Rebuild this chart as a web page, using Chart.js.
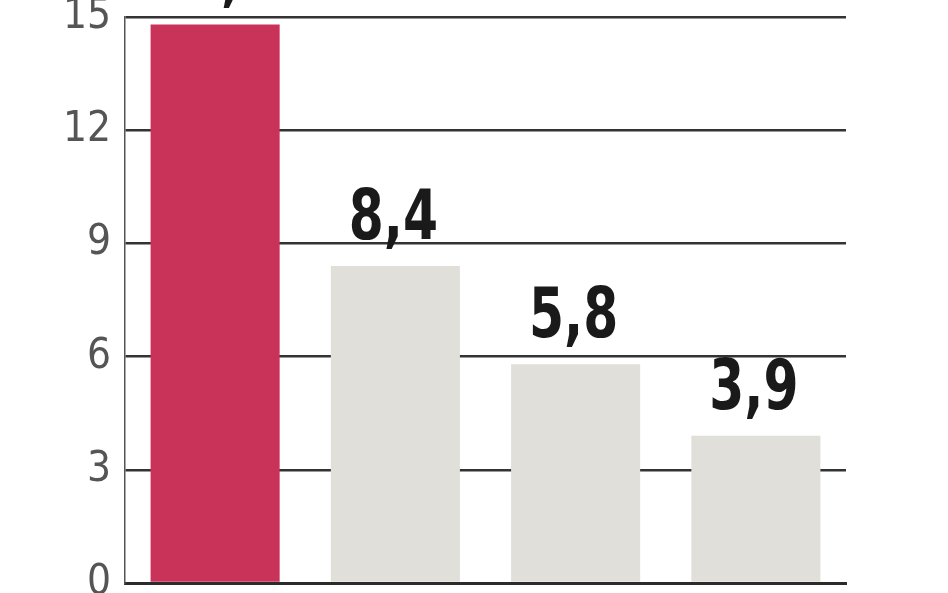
<!DOCTYPE html>
<html>
<head>
<meta charset="utf-8">
<script src="https://cdn.jsdelivr.net/npm/chart.js@4/dist/chart.umd.min.js"></script>
<style>
	html, body { margin: 0; padding: 0; background: #fff; }
	#wrap { width: 948px; height: 593px; }
</style>
</head>
<body>
<div id="wrap"><canvas id="chart" width="948" height="593"></canvas></div>
<script>
const categories = ['A', 'B', 'C', 'D']
const values = [14.8, 8.4, 5.8, 3.9]
const bar_colors = ['#c93259', '#e0dfd9', '#e0dfd9', '#e0dfd9']
const y_ticks = [0, 3, 6, 9, 12, 15]

function fmt (v) {
	return v.toFixed(1).replace('.', ',')
}

// value labels above each bar, narrow bold digits
const value_labels = {
	id: 'value_labels',
	afterDatasetsDraw (chart) {
		const ctx = chart.ctx
		const meta = chart.getDatasetMeta(0)
		const squeeze = 0.8
		ctx.save()
		ctx.font = 'bold 70px "DejaVu Sans Condensed", "DejaVu Sans"'
		ctx.fillStyle = '#1a1a1a'
		ctx.textAlign = 'center'
		ctx.textBaseline = 'alphabetic'
		meta.data.forEach(function (bar, idx) {
			ctx.save()
			ctx.translate(bar.x - 2, bar.y - 27)
			ctx.scale(squeeze, 1)
			ctx.fillText(fmt(values[idx]), 0, 0)
			ctx.restore()
		})
		ctx.restore()
	},
}

const ctx = document.getElementById('chart').getContext('2d')
new Chart(ctx, {
	type: 'bar',
	data: {
		labels: categories,
		datasets: [
			{
				data: values,
				backgroundColor: bar_colors,
				borderWidth: 0,
				barPercentage: 0.716,
				categoryPercentage: 1,
			},
		],
	},
	options: {
		responsive: false,
		animation: false,
		devicePixelRatio: 1,
		layout: { padding: { top: 17, right: 102, bottom: 10, left: 0 } },
		plugins: {
			legend: { display: false },
			tooltip: { enabled: false },
		},
		scales: {
			x: {
				ticks: { display: false },
				grid: { display: false, drawTicks: false },
				border: { color: '#2b2b2b', width: 3 },
				afterFit (scale) {
					scale.height = 0
					scale.paddingLeft = 0
					scale.paddingRight = 0
				},
			},
			y: {
				min: 0,
				max: 15,
				afterBuildTicks (scale) {
					scale.ticks = y_ticks.map(v => ({ value: v }))
				},
				afterFit (scale) {
					scale.width = 125
					scale.paddingTop = 0
					scale.paddingBottom = 0
				},
				ticks: {
					padding: 14,
					color: '#555',
					font: { family: '"DejaVu Sans Condensed", "DejaVu Sans"', size: 42, weight: 'normal' },
				},
				grid: { color: '#333', lineWidth: 2.5, drawTicks: false },
				border: { color: '#555', width: 1.5 },
			},
		},
	},
	plugins: [value_labels],
})
</script>
</body>
</html>
